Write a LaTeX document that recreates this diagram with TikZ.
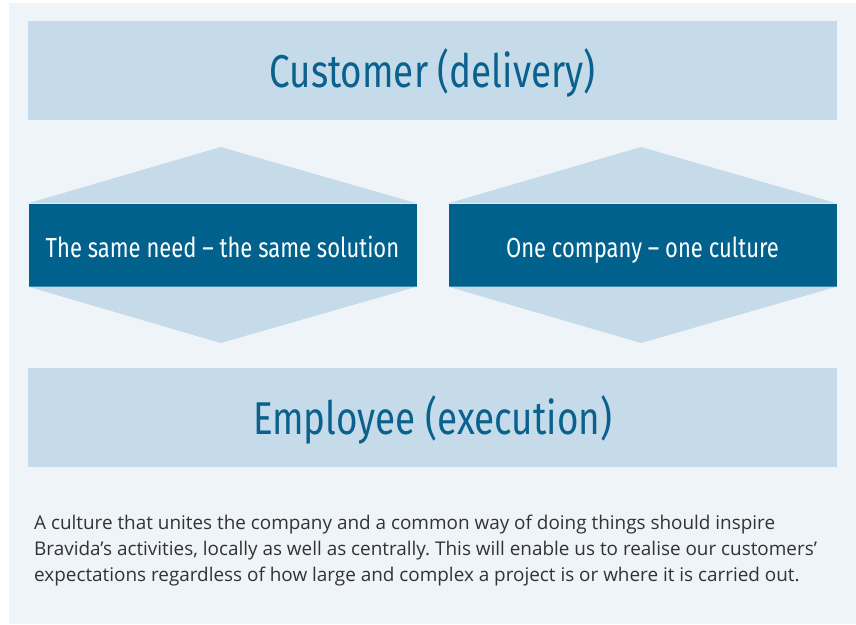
\documentclass[tikz,border=0pt]{standalone}
\usepackage{fontspec}
\setmainfont{Open Sans}
\newfontfamily\headfont[FakeStretch=0.8]{Fira Sans}
\usetikzlibrary{calc}
\definecolor{panelbg}{HTML}{EFF4F9}
\definecolor{lightblue}{HTML}{C5DBE9}
\definecolor{darkblue}{HTML}{00618D}
\definecolor{headblue}{HTML}{0B618D}
\definecolor{bodygray}{HTML}{333333}
\tikzset{
  bar/.style={fill=lightblue, minimum width=809pt, minimum height=99pt,
    inner sep=0pt, text height=34pt, text depth=0pt,
    font=\headfont\fontsize{46}{50}\selectfont, text=headblue},
  midbox/.style={fill=darkblue, minimum width=388pt, minimum height=83pt,
    inner sep=0pt, text height=24.6pt, text depth=0pt,
    font=\headfont\fontsize{27.5}{30}\selectfont, text=white},
}

\begin{document}
\frenchspacing
\begin{tikzpicture}[x=1pt, y=-1pt]
    \useasboundingbox (0,0) rectangle (856,624);
    \fill[panelbg] (9,3) rectangle (856,624);

    % top and bottom bars
    \node[bar] (customer) at (432.5,70.5) {Customer (delivery)};
    \node[bar] (employee) at (432.5,417.3) {Employee (execution)};

    % coordinates to be reused
    \coordinate (needtop) at (220.7,147);
    \coordinate (needbot) at (220.7,343);
    \coordinate (cultop) at (641,147);
    \coordinate (culbot) at (641,343);

    % the two hexagons
    \node[midbox] (need) at (222.5,245) {The same need – the same solution};
    \node[midbox] (culture) at (642.5,245) {One company – one culture};
    \fill[lightblue] (need.north west) -- (needtop) -- (need.north east) -- cycle;
    \fill[lightblue] (need.south west) -- (needbot) -- (need.south east) -- cycle;
    \fill[lightblue] (culture.north west) -- (cultop) -- (culture.north east) -- cycle;
    \fill[lightblue] (culture.south west) -- (culbot) -- (culture.south east) -- cycle;

    % add text
    \node[anchor=north west, inner sep=0pt, align=left, text=bodygray,
      font=\fontsize{18.9}{26}\selectfont] (about) at (34,515)
      {A culture that unites the company and a common way of doing things should inspire\\
       Bravida’s activities, locally as well as centrally. This will enable us to realise our customers’\\
       expectations regardless of how large and complex a project is or where it is carried out.};
\end{tikzpicture}
\end{document}
